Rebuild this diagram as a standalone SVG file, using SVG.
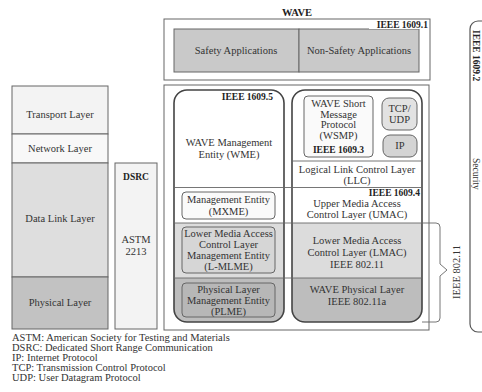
<svg xmlns="http://www.w3.org/2000/svg" width="482" height="392" viewBox="0 0 482 392">
<style>
text{font-family:"Liberation Serif",serif;font-size:10.5px;fill:#333;text-anchor:middle}
.b{font-weight:bold;fill:#222}
.s{font-size:9.5px}
.l{text-anchor:start;font-size:10.5px}
.box{stroke:#666;stroke-width:1}
.rr{fill:none;stroke:#444;stroke-width:1.6}
.ln{stroke:#666;stroke-width:0.9;fill:none}
</style>
<defs>
<clipPath id="cl"><rect x="174" y="90" width="110" height="232" rx="13"/></clipPath>
<clipPath id="cr"><rect x="292" y="90" width="130" height="232" rx="13"/></clipPath>
</defs>
<rect width="482" height="392" fill="#fff"/>

<g id="osi">
<rect class="box" x="12" y="86" width="96" height="48" fill="#f3f3f3"/>
<rect class="box" x="12" y="134" width="96" height="29" fill="#f8f8f8"/>
<rect class="box" x="12" y="163" width="96" height="114" fill="#dedede"/>
<rect class="box" x="12" y="277" width="96" height="52" fill="#c2c2c2"/>
<text x="60" y="118">Transport Layer</text>
<text x="60" y="152">Network Layer</text>
<text x="60" y="222">Data Link Layer</text>
<text x="60" y="306">Physical Layer</text>
</g>

<g id="dsrc">
<rect class="box" x="115" y="163" width="42" height="166" fill="#f3f3f3"/>
<text class="b s" x="136" y="180">DSRC</text>
<text x="136" y="243">ASTM</text>
<text x="136" y="255">2213</text>
</g>

<text class="b" x="297" y="16">WAVE</text>

<g id="wave-apps">
<rect class="box" x="164" y="19" width="266" height="61" fill="#fff"/>
<rect class="box" x="174" y="29" width="125" height="43" fill="#c9c9c9"/>
<rect class="box" x="299" y="29" width="120" height="43" fill="#c9c9c9"/>
<text x="236" y="54">Safety Applications</text>
<text x="359" y="54">Non-Safety Applications</text>
<rect x="369" y="20" width="60" height="9" fill="#fff"/>
<text class="b s" x="428" y="28" style="text-anchor:end">IEEE 1609.1</text>
</g>

<g id="stack">
<rect class="box" x="164" y="85" width="265" height="245" fill="#fff"/>
</g>

<g id="ieee16095">
<g clip-path="url(#cl)">
<rect x="170" y="223" width="120" height="55" fill="#dcdcdc"/>
<rect x="170" y="278" width="120" height="50" fill="#bdbdbd"/>
</g>
<rect class="rr" x="174" y="90" width="110" height="232" rx="13"/>
<text class="b s" x="273" y="100" style="text-anchor:end">IEEE 1609.5</text>
<text x="229" y="146">WAVE Management</text>
<text x="229" y="158">Entity (WME)</text>
</g>

<g id="mxme">
<rect class="box" x="182" y="192" width="93" height="27" rx="4" fill="#fafafa"/>
<text x="228.5" y="203">Management Entity</text>
<text x="228.5" y="215">(MXME)</text>
</g>
<g id="lmlme">
<rect class="box" x="182" y="227" width="93" height="46" rx="4" fill="#d6d6d6"/>
<text x="228.5" y="237">Lower Media Access</text>
<text x="228.5" y="248">Control Layer</text>
<text x="228.5" y="259">Management Entity</text>
<text x="228.5" y="270">(L-MLME)</text>
</g>
<g id="plme">
<rect class="box" x="182" y="283" width="93" height="34" rx="4" fill="#b7b7b7"/>
<text x="228.5" y="293">Physical Layer</text>
<text x="228.5" y="304">Management Entity</text>
<text x="228.5" y="315">(PLME)</text>
</g>

<g id="right">
<g clip-path="url(#cr)">
<rect x="288" y="223" width="140" height="55" fill="#dcdcdc"/>
<rect x="288" y="278" width="140" height="50" fill="#bdbdbd"/>
</g>
<rect class="rr" x="292" y="90" width="130" height="232" rx="13"/>
<text x="357" y="173">Logical Link Control Layer</text>
<text x="357" y="184">(LLC)</text>
<text x="357" y="207">Upper Media Access</text>
<text x="357" y="218">Control Layer (UMAC)</text>
<text x="357" y="244">Lower Media Access</text>
<text x="357" y="256">Control Layer (LMAC)</text>
<text x="357" y="268">IEEE 802.11</text>
<text x="357" y="293">WAVE Physical Layer</text>
<text x="357" y="305">IEEE 802.11a</text>
</g>

<g id="wsmp">
<rect class="box" x="304" y="96" width="69" height="61" rx="4" fill="#fafafa"/>
<text x="338.5" y="107">WAVE Short</text>
<text x="338.5" y="118">Message</text>
<text x="338.5" y="128">Protocol</text>
<text x="338.5" y="139">(WSMP)</text>
<text class="b s" x="338.5" y="153">IEEE 1609.3</text>
</g>
<g id="tcpudp">
<rect class="box" x="382" y="98" width="35" height="32" rx="7" fill="#e2e2e2"/>
<text x="399.5" y="112">TCP/</text>
<text x="399.5" y="123">UDP</text>
</g>
<g id="ip">
<rect class="box" x="383" y="135" width="34" height="22" rx="7" fill="#d4d4d4"/>
<text x="400" y="149">IP</text>
</g>

<g id="connectors">
<line class="ln" x1="292" y1="161" x2="422" y2="161"/>
<line class="ln" x1="174" y1="187.5" x2="422" y2="187.5"/>
<line class="ln" x1="174" y1="223" x2="422" y2="223"/>
<line class="ln" x1="174" y1="278" x2="422" y2="278"/>
<path class="ln" d="M422 223 H436 Q440 223 440 227 V264 L447 270 L440 276 V318 Q440 322 436 322 H422"/>
</g>

<g id="label16094">
<rect x="362" y="188.5" width="59" height="8.5" fill="#fff"/>
<text class="b s" x="420" y="196" style="text-anchor:end">IEEE 1609.4</text>
</g>
<text x="460" y="272" transform="rotate(-90 460 272)">IEEE 802.11</text>

<g id="security">
<rect x="470" y="21" width="30" height="311" rx="8" fill="#fff" stroke="#555" stroke-width="1.2"/>
<text class="b s" x="472.5" y="30" transform="rotate(90 472.5 30)" style="text-anchor:start">IEEE 1609.2</text>
<text class="s" x="472.5" y="158" transform="rotate(90 472.5 158)" style="text-anchor:start">Security</text>
</g>

<g id="legend">
<text class="l" x="12" y="341">ASTM: American Society for Testing and Materials</text>
<text class="l" x="12" y="351">DSRC: Dedicated Short Range Communication</text>
<text class="l" x="12" y="361">IP: Internet Protocol</text>
<text class="l" x="12" y="371">TCP: Transmission Control Protocol</text>
<text class="l" x="12" y="381">UDP: User Datagram Protocol</text>
</g>
</svg>
